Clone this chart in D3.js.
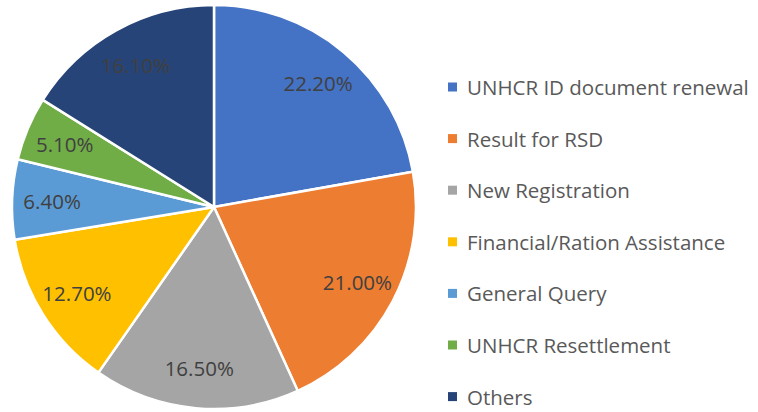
<!DOCTYPE html>
<html><head><meta charset="utf-8">
<script src="https://cdn.jsdelivr.net/npm/d3@7"></script>
<style>body{margin:0;background:#fff}svg{display:block}</style>
</head><body>
<script>
const categories = ["UNHCR ID document renewal","Result for RSD","New Registration","Financial/Ration Assistance","General Query","UNHCR Resettlement","Others"];
const values = [22.2, 21.0, 16.5, 12.7, 6.4, 5.1, 16.1];
const labels = ["22.20%","21.00%","16.50%","12.70%","6.40%","5.10%","16.10%"];
const colors = ["#4472C4","#ED7D31","#A5A5A5","#FFC000","#5B9BD5","#70AD47","#264478"];

const W = 758, H = 412;
const svg = d3.select("body").append("svg").attr("width", W).attr("height", H);
const cx = 214, cy = 207, R = 202;
const pie = d3.pie().sort(null).value(d => d)(values);
const arc = d3.arc().innerRadius(0).outerRadius(R);
const labelArc = d3.arc().innerRadius(162).outerRadius(162);
const g = svg.append("g").attr("transform", `translate(${cx},${cy})`);
g.selectAll("path").data(pie).join("path")
  .attr("d", arc).attr("fill", (d,i) => colors[i])
  .attr("stroke", "#fff").attr("stroke-width", 2.5).attr("stroke-linejoin","round");
g.selectAll("text").data(pie).join("text")
  .attr("transform", d => `translate(${labelArc.centroid(d)})`)
  .attr("text-anchor", "middle").attr("dominant-baseline", "central")
  .attr("font-family", "'Open Sans', sans-serif").attr("font-size", 20.5)
  .attr("fill", "#404040").text((d,i) => labels[i]);

const leg = svg.append("g").attr("transform", "translate(448,87)");
const row = leg.selectAll("g").data(categories).join("g")
  .attr("transform", (d,i) => `translate(0,${i*51.6})`);
row.append("rect").attr("x", 0).attr("y", -4.5).attr("width", 9).attr("height", 9)
  .attr("fill", (d,i) => colors[i]);
row.append("text").attr("x", 19).attr("dominant-baseline", "central")
  .attr("font-family", "'Open Sans', sans-serif").attr("font-size", 20.5)
  .attr("fill", "#595959").text(d => d);
</script>
</body></html>
